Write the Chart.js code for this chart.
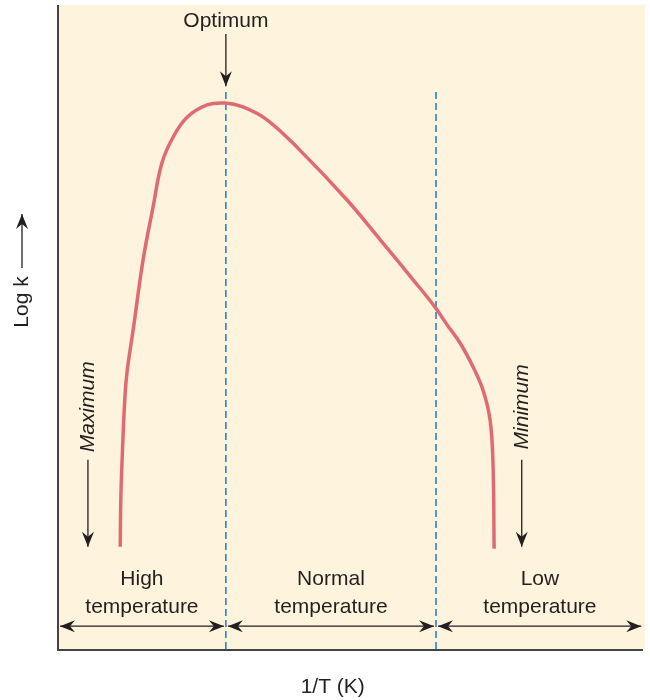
<!DOCTYPE html>
<html>
<head>
<meta charset="utf-8">
<script src="https://cdn.jsdelivr.net/npm/chart.js@4"></script>
<style>
  html, body { margin: 0; padding: 0; background: #fff; }
  #wrap { width: 650px; height: 700px; }
</style>
</head>
<body>
<div id="wrap"><canvas id="chart" width="650" height="700"></canvas></div>
<script>
// curve of log k against 1/T (arbitrary units 0-10)
const invT = [1.06, 1.07, 1.09, 1.14, 1.18, 1.28, 1.45, 1.62, 1.77, 1.96, 2.20, 2.54, 2.84, 3.15, 3.56, 4.12, 4.92, 5.49, 6.05, 6.42, 6.63, 6.85, 7.07, 7.24, 7.36, 7.41, 7.43];
const logK = [1.60, 2.33, 2.90, 3.92, 4.34, 4.96, 6.05, 6.87, 7.55, 7.95, 8.26, 8.45, 8.48, 8.42, 8.22, 7.75, 6.98, 6.36, 5.74, 5.32, 5.04, 4.76, 4.39, 4.03, 3.57, 2.90, 1.57];

// region boundaries (dashed lines) and labels
const boundaries = [2.86, 6.44];
const regionLabels = [['High', 'temperature'], ['Normal', 'temperature'], ['Low', 'temperature']];
const regionCentres = [1.43, 4.65, 8.21];

const FONT = '"Liberation Sans", Arial, sans-serif';
const INK = '#231f20';

function arrowHead(ctx, x, y, dir) {
    // dir: angle the arrow points to
    ctx.save();
    ctx.translate(x, y);
    ctx.rotate(dir);
    ctx.beginPath();
    ctx.moveTo(0, 0);
    ctx.lineTo(-15, -6);
    ctx.lineTo(-10, 0);
    ctx.lineTo(-15, 6);
    ctx.closePath();
    ctx.fillStyle = INK;
    ctx.fill();
    ctx.restore();
}

function arrow(ctx, x1, y1, x2, y2) {
    ctx.beginPath();
    ctx.moveTo(x1, y1);
    ctx.lineTo(x2, y2);
    ctx.strokeStyle = INK;
    ctx.lineWidth = 1.3;
    ctx.stroke();
    arrowHead(ctx, x2, y2, Math.atan2(y2 - y1, x2 - x1));
}

const backdrop = {
    id: 'backdrop',
    beforeDatasetsDraw(chart) {
        const ctx = chart.ctx;
        const a = chart.chartArea;
        const xs = chart.scales.x, ys = chart.scales.y;
        ctx.save();
        ctx.fillStyle = '#fef3dc';
        ctx.fillRect(a.left, a.top, a.right - a.left, a.bottom - a.top);

        // dashed boundaries
        ctx.strokeStyle = '#1f7bbf';
        ctx.lineWidth = 1.5;
        ctx.setLineDash([7, 4]);
        boundaries.forEach(b => {
            const px = xs.getPixelForValue(b);
            ctx.beginPath();
            ctx.moveTo(px, ys.getPixelForValue(8.65));
            ctx.lineTo(px, a.bottom);
            ctx.stroke();
        });
        ctx.setLineDash([]);

        // axes
        ctx.strokeStyle = '#444';
        ctx.lineWidth = 2;
        ctx.beginPath();
        ctx.moveTo(a.left, a.top);
        ctx.lineTo(a.left, a.bottom);
        ctx.lineTo(a.right - 2, a.bottom);
        ctx.stroke();
        ctx.restore();
    },
    afterDatasetsDraw(chart) {
        const ctx = chart.ctx;
        const xs = chart.scales.x, ys = chart.scales.y;
        const X = v => xs.getPixelForValue(v), Y = v => ys.getPixelForValue(v);
        ctx.save();
        ctx.fillStyle = INK;
        ctx.textAlign = 'center';
        ctx.textBaseline = 'middle';
        ctx.font = '21px ' + FONT;

        // optimum
        ctx.fillText('Optimum', X(boundaries[0]), Y(9.75));
        arrow(ctx, X(boundaries[0]), Y(9.55), X(boundaries[0]), Y(8.74));

        // region labels
        regionLabels.forEach((lines, i) => {
            ctx.fillText(lines[0], X(regionCentres[i]), Y(1.09));
            ctx.fillText(lines[1], X(regionCentres[i]), Y(0.67));
        });

        // span arrows along the bottom
        const yb = Y(0.37);
        const stops = [0, boundaries[0], boundaries[1], 9.97];
        for (let i = 0; i < 3; i++) {
            const l = X(stops[i]) + 2;
            const r = X(stops[i + 1]) - 2;
            ctx.beginPath();
            ctx.moveTo(l, yb);
            ctx.lineTo(r, yb);
            ctx.strokeStyle = INK;
            ctx.lineWidth = 1.3;
            ctx.stroke();
            arrowHead(ctx, l, yb, Math.PI);
            arrowHead(ctx, r, yb, 0);
        }

        // maximum / minimum
        ctx.font = 'italic 21px ' + FONT;
        [[0.51, 'Maximum'], [7.90, 'Minimum']].forEach(([x, t]) => {
            ctx.save();
            ctx.translate(X(x), Y(3.77));
            ctx.rotate(-Math.PI / 2);
            ctx.fillText(t, 0, 0);
            ctx.restore();
            arrow(ctx, X(x), Y(2.95), X(x), Y(1.60));
        });

        // axis titles
        ctx.font = '21px ' + FONT;
        ctx.save();
        ctx.translate(22, 302);
        ctx.rotate(-Math.PI / 2);
        ctx.fillText('Log k', 0, 0);
        ctx.restore();
        arrow(ctx, 22, 268, 22, 214);
        ctx.fillText('1/T (K)', X(4.68), 687);
        ctx.restore();
    }
};

new Chart(document.getElementById('chart'), {
    type: 'line',
    data: {
        datasets: [{
            data: invT.map((x, i) => ({ x: x, y: logK[i] })),
            borderColor: '#e06a72',
            borderWidth: 3.5,
            pointRadius: 0,
            tension: 0.4,
            fill: false
        }]
    },
    options: {
        responsive: false,
        animation: false,
        layout: { padding: { left: 58, top: 5, right: 5, bottom: 50 } },
        scales: {
            x: { type: 'linear', min: 0, max: 10, display: false },
            y: { type: 'linear', min: 0, max: 10, display: false }
        },
        plugins: { legend: { display: false }, tooltip: { enabled: false } }
    },
    plugins: [backdrop]
});
</script>
</body>
</html>
